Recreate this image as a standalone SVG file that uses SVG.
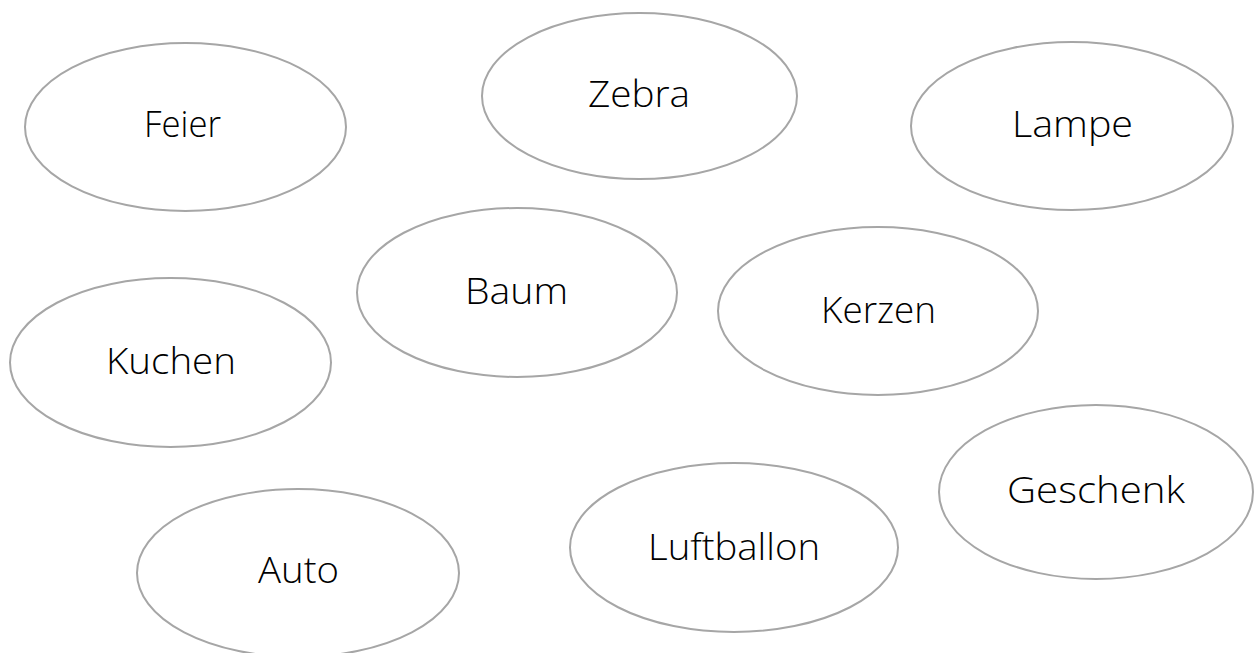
<svg xmlns="http://www.w3.org/2000/svg" width="1254" height="653" viewBox="0 0 1254 653">
<style>
.n ellipse{fill:#ffffff;stroke:#a6a6a6;stroke-width:2}
.n text{font-family:"Open Sans","Noto Sans",sans-serif;font-weight:300;font-size:37px;fill:#000000;text-anchor:middle}
</style>
<rect width="1254" height="653" fill="#ffffff"/>
<g id="connectors"></g>
<g id="feier" class="n"><ellipse cx="185.5" cy="127" rx="160.5" ry="84"/><text x="182.5" y="137" textLength="77" lengthAdjust="spacingAndGlyphs">Feier</text></g>
<g id="zebra" class="n"><ellipse cx="639.5" cy="96" rx="157.5" ry="83"/><text x="639" y="107" textLength="102" lengthAdjust="spacingAndGlyphs">Zebra</text></g>
<g id="lampe" class="n"><ellipse cx="1072" cy="126" rx="161" ry="84"/><text x="1072.5" y="137" textLength="121" lengthAdjust="spacingAndGlyphs">Lampe</text></g>
<g id="baum" class="n"><ellipse cx="517" cy="292.5" rx="160" ry="84.5"/><text x="516.5" y="304" textLength="103" lengthAdjust="spacingAndGlyphs">Baum</text></g>
<g id="kerzen" class="n"><ellipse cx="878" cy="311" rx="160" ry="84"/><text x="878.5" y="323" textLength="115" lengthAdjust="spacingAndGlyphs">Kerzen</text></g>
<g id="kuchen" class="n"><ellipse cx="170.5" cy="362.5" rx="160.5" ry="84.5"/><text x="171" y="374" textLength="130" lengthAdjust="spacingAndGlyphs">Kuchen</text></g>
<g id="geschenk" class="n"><ellipse cx="1096" cy="492" rx="157" ry="87"/><text x="1096" y="503" textLength="178" lengthAdjust="spacingAndGlyphs">Geschenk</text></g>
<g id="luftballon" class="n"><ellipse cx="734" cy="547.5" rx="164" ry="84.5"/><text x="734" y="560" textLength="172" lengthAdjust="spacingAndGlyphs">Luftballon</text></g>
<g id="auto" class="n"><ellipse cx="298" cy="573" rx="161" ry="84"/><text x="298.5" y="583" textLength="81" lengthAdjust="spacingAndGlyphs">Auto</text></g>
</svg>
